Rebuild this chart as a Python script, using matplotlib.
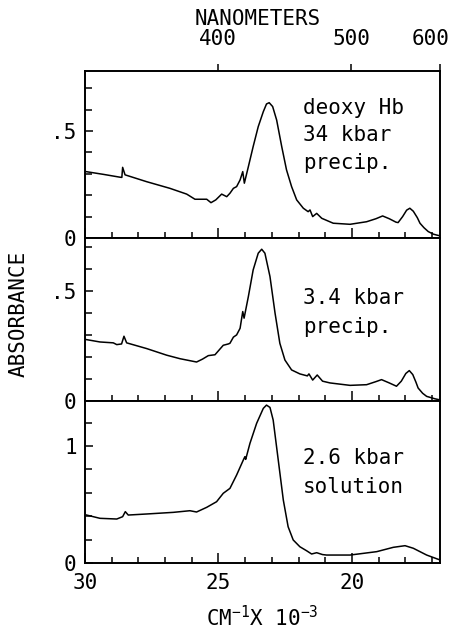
import matplotlib
matplotlib.use("Agg")
import matplotlib.pyplot as plt
import matplotlib.transforms as mtransforms
from matplotlib.ticker import MultipleLocator, FixedLocator

plt.rcParams['font.family'] = ['DejaVu Sans Mono']
plt.rcParams['mathtext.default'] = 'regular'

# wavenumber in 10^3 cm^-1
x_34 = [29.96, 29.3, 28.69, 28.62, 28.59, 28.5, 27.69, 26.82, 26.19, 25.88, 25.44, 25.28, 25.1,
        24.88, 24.69, 24.57, 24.44, 24.32, 24.19, 24.09, 24.03, 23.88, 23.7, 23.51, 23.32, 23.2,
        23.1, 22.97, 22.82, 22.63, 22.45, 22.26, 22.07, 21.82, 21.64, 21.57, 21.47, 21.32, 21.13,
        20.7, 20.07, 19.45, 19.1, 18.85, 18.6, 18.35, 18.27, 18.1, 17.95, 17.83, 17.7, 17.55,
        17.45, 17.3, 17.14, 16.95, 16.83, 16.7]
a_34 = [0.31, 0.297, 0.284, 0.283, 0.33, 0.295, 0.263, 0.232, 0.205, 0.181, 0.181, 0.165, 0.178,
        0.205, 0.193, 0.209, 0.232, 0.24, 0.271, 0.31, 0.256, 0.333, 0.427, 0.52, 0.59, 0.626,
        0.632, 0.614, 0.551, 0.427, 0.318, 0.24, 0.178, 0.139, 0.123, 0.131, 0.10, 0.115, 0.092,
        0.069, 0.064, 0.076, 0.09, 0.103, 0.09, 0.074, 0.072, 0.10, 0.13, 0.139, 0.125, 0.095,
        0.069, 0.048, 0.03, 0.018, 0.014, 0.01]

x_3p4 = [29.96, 29.44, 28.94, 28.81, 28.63, 28.54, 28.44, 27.69, 26.94, 26.44, 25.82, 25.6, 25.38,
         25.13, 24.82, 24.63, 24.57, 24.44, 24.32, 24.19, 24.09, 24.04, 23.88, 23.7, 23.51, 23.38,
         23.26, 23.07, 22.88, 22.7, 22.51, 22.26, 21.95, 21.67, 21.61, 21.47, 21.3, 21.1, 20.82,
         20.07, 19.45, 19.1, 18.89, 18.6, 18.33, 18.15, 17.98, 17.85, 17.72, 17.6, 17.52, 17.35,
         17.2, 16.89, 16.7]
a_3p4 = [0.279, 0.268, 0.264, 0.256, 0.259, 0.294, 0.264, 0.238, 0.208, 0.192, 0.177, 0.19, 0.206,
         0.21, 0.253, 0.259, 0.262, 0.29, 0.30, 0.33, 0.406, 0.376, 0.474, 0.595, 0.671, 0.689,
         0.671, 0.565, 0.399, 0.262, 0.186, 0.141, 0.123, 0.114, 0.123, 0.095, 0.118, 0.09, 0.082,
         0.071, 0.074, 0.088, 0.097, 0.082, 0.067, 0.09, 0.125, 0.138, 0.12, 0.085, 0.059, 0.035,
         0.021, 0.01, 0.005]

x_2p6 = [29.94, 29.44, 28.81, 28.59, 28.49, 28.38, 27.69, 26.69, 26.07, 25.82, 25.44, 25.07, 24.82,
         24.57, 24.32, 24.07, 24.01, 23.98, 23.82, 23.57, 23.32, 23.2, 23.07, 22.95, 22.76, 22.57,
         22.39, 22.2, 21.95, 21.7, 21.51, 21.32, 21.1, 20.95, 20.07, 19.07, 18.45, 18.01, 17.7,
         17.2, 16.7]
a_2p6 = [0.41, 0.382, 0.376, 0.396, 0.439, 0.41, 0.419, 0.433, 0.447, 0.436, 0.476, 0.524, 0.596,
         0.638, 0.752, 0.88, 0.909, 0.886, 1.023, 1.194, 1.322, 1.35, 1.33, 1.222, 0.88, 0.538,
         0.31, 0.197, 0.139, 0.105, 0.077, 0.088, 0.072, 0.068, 0.068, 0.097, 0.134, 0.148, 0.126,
         0.068, 0.026]

panel_labels = [["deoxy Hb", "34 kbar", "precip."],
                ["3.4 kbar", "precip."],
                ["2.6 kbar", "solution"]]
ylims = [0.78, 0.74, 1.385]
ytick_major = [[0, 0.5], [0, 0.5], [0, 1]]
ytick_labels = [["0", ".5"], ["0", ".5"], ["0", "1"]]
ytick_minor_step = [0.1, 0.1, 0.2]
xtick_major = [30, 25, 20]
xtick_labels = ["30", "25", "20"]
nm_ticks = [400, 500, 600]

W, H = 457, 635
fig = plt.figure(figsize=(W / 100, H / 100), dpi=100)
gs = fig.add_gridspec(3, 1, height_ratios=[167, 163, 162], hspace=0,
                      left=85 / W, right=440 / W, top=1 - 71 / H, bottom=1 - 563 / H)
axes = [fig.add_subplot(gs[i]) for i in range(3)]
for a in axes[1:]:
    a.sharex(axes[0])

series = [(x_34, a_34), (x_3p4, a_3p4), (x_2p6, a_2p6)]
fs = 15
label_y = [[108, 135, 163], [298, 327], [458, 487]]
panel_tops = [71, 238, 401]
panel_h = [167, 163, 162]

for i, ax in enumerate(axes):
    xs, ys = series[i]
    ax.plot(xs, ys, color='black', lw=1.1)
    ax.set_xlim(30, 16.7)
    ax.set_ylim(0, ylims[i])
    for s in ax.spines.values():
        s.set_linewidth(1.4)
    ax.yaxis.set_major_locator(FixedLocator(ytick_major[i]))
    ax.set_yticklabels(ytick_labels[i])
    ax.yaxis.set_minor_locator(MultipleLocator(ytick_minor_step[i]))
    ax.xaxis.set_major_locator(FixedLocator(xtick_major))
    ax.xaxis.set_minor_locator(MultipleLocator(1))
    ax.tick_params(axis='both', which='both', direction='in', width=1.1)
    ax.tick_params(axis='y', which='major', length=6, labelsize=fs, pad=6)
    ax.tick_params(axis='y', which='minor', length=5)
    ax.tick_params(axis='x', which='major', length=7, labelsize=fs, pad=7,
                   top=(i == 0))
    ax.tick_params(axis='x', which='minor', length=4.5, top=(i == 0))
    if i < 2:
        ax.tick_params(axis='x', labelbottom=False)
    else:
        ax.set_xticklabels(xtick_labels)
    for j, line in enumerate(panel_labels[i]):
        yy = (panel_tops[i] + panel_h[i] - label_y[i][j]) / panel_h[i]
        ax.text((303 - 85) / 355, yy, line, transform=ax.transAxes,
                ha='left', va='center', fontsize=fs)

# nanometer axis on top
top = axes[0].twiny()
top.set_xlim(axes[0].get_xlim())
top.set_xticks([1e4 / n for n in nm_ticks])
top.set_xticklabels([str(n) for n in nm_ticks])
top.tick_params(axis='x', direction='out', length=5, width=1.1, labelsize=fs, pad=11)
for s in top.spines.values():
    s.set_visible(False)
# nudge the "600" label left so it stays inside the figure, as in the original
lab600 = top.get_xticklabels()[-1]
lab600.set_transform(lab600.get_transform() +
                     mtransforms.ScaledTranslation(-7 / 72, 0, fig.dpi_scale_trans))

fig.text(258 / W, 1 - 19 / H, "NANOMETERS", ha='center', va='center', fontsize=fs)
fig.text(19 / W, 1 - 314 / H, "ABSORBANCE", ha='center', va='center', rotation=90, fontsize=fs)
fig.text(262 / W, 1 - 618 / H, "CM$^{-1}$X 10$^{-3}$", ha='center', va='center', fontsize=fs)

fig.savefig("out.png", dpi=100)
